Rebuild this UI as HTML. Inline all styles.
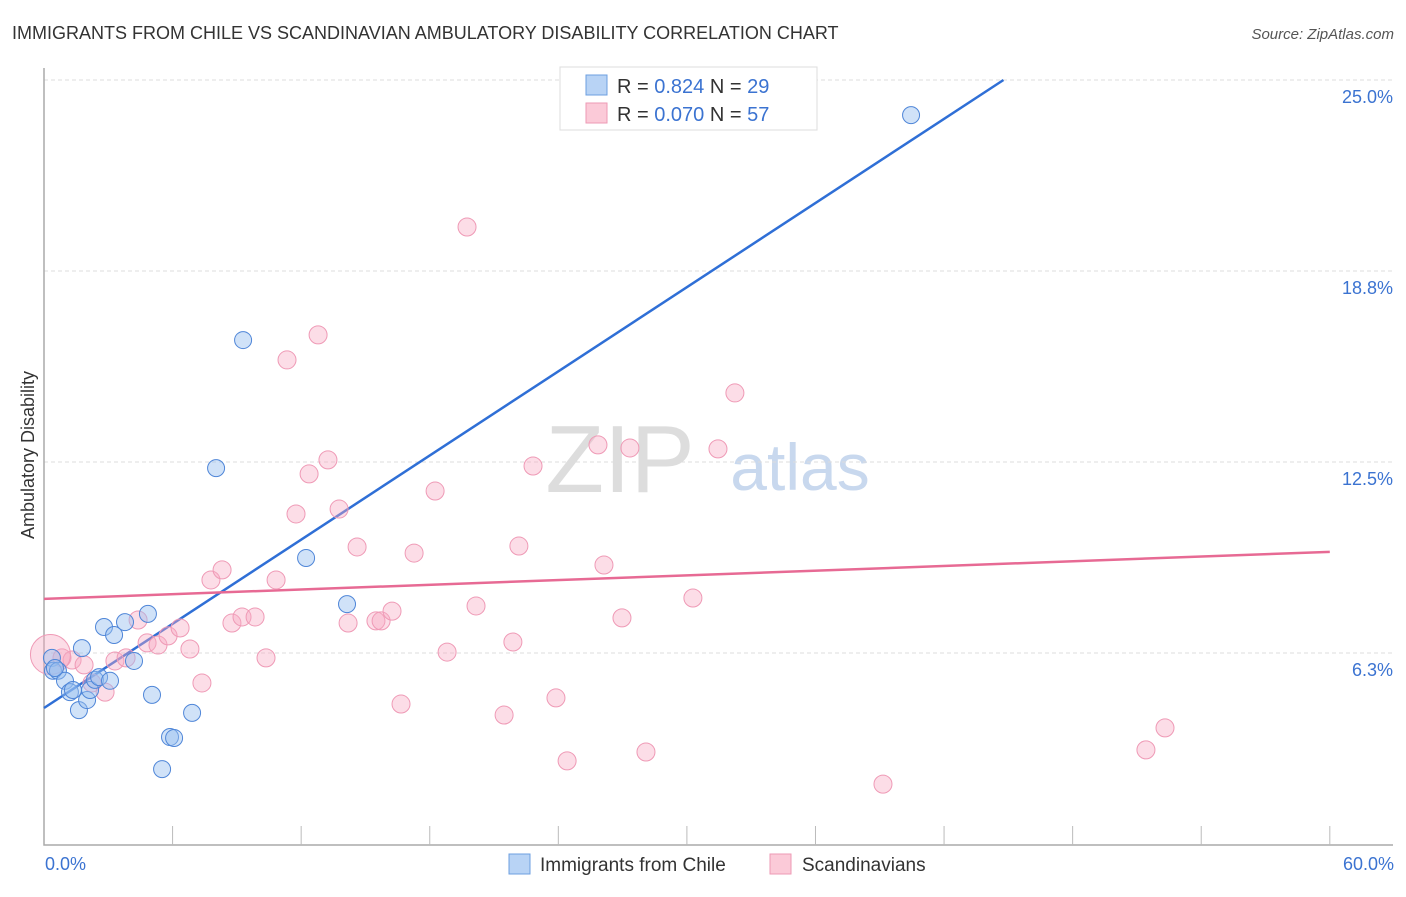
<!DOCTYPE html>
<html><head><meta charset="utf-8"><style>
body{margin:0;background:#fff;font-family:"Liberation Sans",sans-serif;}
svg text{font-family:"Liberation Sans",sans-serif;}
</style></head><body>
<svg width="1406" height="892" xmlns="http://www.w3.org/2000/svg">
<text x="12" y="39" font-size="18" fill="#333">IMMIGRANTS FROM CHILE VS SCANDINAVIAN AMBULATORY DISABILITY CORRELATION CHART</text>
<text x="1394" y="39" font-size="15" fill="#555" text-anchor="end" font-style="italic">Source: ZipAtlas.com</text>
<text x="620" y="492" font-size="96" fill="#ddd" text-anchor="middle" font-family="Liberation Serif">ZIP</text>
<text x="800" y="490" font-size="66" fill="#c8d8ee" text-anchor="middle">atlas</text>
<g id="grid"></g><g id="axes"></g><g id="lines"></g><g id="pts"></g>
<text transform="translate(34,455) rotate(-90)" font-size="18" fill="#333" text-anchor="middle">Ambulatory Disability</text>
<text x="45" y="870" font-size="18" fill="#3b73d1">0.0%</text>
<text x="1394" y="870" font-size="18" fill="#3b73d1" text-anchor="end">60.0%</text>
<g>
<rect x="560" y="67" width="257" height="63" fill="#fff" stroke="#ddd"/>
<rect x="586" y="75" width="21" height="20" fill="#b8d3f5" stroke="#6c9fe0"/>
<rect x="586" y="103" width="21" height="20" fill="#fbcad8" stroke="#ee9ab5"/>
<text x="617" y="93" font-size="20" fill="#333">R = <tspan fill="#3b73d1">0.824</tspan>   N = <tspan fill="#3b73d1">29</tspan></text>
<text x="617" y="121" font-size="20" fill="#333">R = <tspan fill="#3b73d1">0.070</tspan>   N = <tspan fill="#3b73d1">57</tspan></text>
</g>
<g><rect x="509" y="854" width="21" height="20" fill="#b8d3f5" stroke="#6c9fe0"/><text x="540" y="871" font-size="19" fill="#333">Immigrants from Chile</text></g>
<g><rect x="770" y="854" width="21" height="20" fill="#fbcad8" stroke="#ee9ab5"/><text x="802" y="871" font-size="19" fill="#333">Scandinavians</text></g>
</svg>
<script>
const yTicks=[25.0,18.8,12.5,6.3];
const yTickVals=[25,18.75,12.5,6.25];
const chileX=[0.37,0.42,0.65,0.98,1.21,1.35,1.63,1.77,2.01,2.15,2.38,2.57,2.80,3.08,3.27,3.78,4.20,4.85,5.04,5.51,5.88,6.07,6.91,8.03,9.29,12.23,14.14,40.46,0.51];
const chileY=[6.09,5.67,5.67,5.34,4.97,5.04,4.38,6.41,4.71,5.04,5.37,5.46,7.10,5.34,6.84,7.26,5.99,7.53,4.88,2.45,3.50,3.47,4.29,12.30,16.49,9.36,7.85,23.85,5.76];
const scanX=[0.84,1.31,1.87,2.24,2.85,3.31,3.83,4.39,4.81,5.32,5.79,6.35,6.81,7.37,7.79,8.31,8.77,9.24,9.85,10.36,10.83,11.34,11.76,12.37,12.79,13.25,13.77,14.19,14.61,15.49,15.73,16.24,16.66,17.27,18.25,18.81,19.74,20.16,21.47,21.88,22.16,22.82,23.89,24.41,25.85,26.13,26.97,27.34,27.90,28.09,30.28,31.45,32.24,39.15,51.42,52.31,0.3];
const scanY=[6.09,6.02,5.86,5.27,4.97,5.99,6.09,7.33,6.58,6.51,6.81,7.07,6.38,5.27,8.64,8.97,7.23,7.43,7.43,6.09,8.64,15.84,10.80,12.11,16.66,12.57,10.96,7.23,9.72,7.30,7.30,7.62,4.58,9.52,11.55,6.28,20.19,7.79,4.22,6.61,9.75,12.37,4.78,2.72,13.06,9.13,7.40,12.96,24.74,3.01,8.05,12.93,14.76,1.96,3.08,3.80,6.2];
const chileFit=[4.45,0.459];
const scanFit=[8.02,9.56];
const X=v=>44+v*21.43, Y=v=>80+(25-v)*30.56;
const NS='http://www.w3.org/2000/svg';
function mk(p,t,a){const e=document.createElementNS(NS,t);for(const k in a)e.setAttribute(k,a[k]);document.getElementById(p).appendChild(e);return e;}
yTickVals.forEach((v,i)=>{
 const g=mk('grid','line',{x1:44,x2:1393,y1:Y(v),y2:Y(v),stroke:'#ddd','stroke-dasharray':'4,3'});
 
 
 const t=mk('grid','text',{x:1393,y:Y(v)+23,'font-size':18,fill:'#3b73d1','text-anchor':'end'});
 t.textContent=yTicks[i].toFixed(1)+'%';
 
 
});
const ax=mk('axes','path',{d:'M44,68 V845 H1393',fill:'none',stroke:'#aaa','stroke-width':1.5});


for(let i=1;i<=10;i++){const t=mk('axes','line',{x1:X(i*6),x2:X(i*6),y1:826,y2:845,stroke:'#bbb'});
 
 }
const xe=(25-chileFit[0])/chileFit[1];
const l1=mk('lines','line',{x1:X(0),y1:Y(chileFit[0]),x2:X(xe),y2:Y(25),stroke:'#2f6fd6','stroke-width':2.5});


const l2=mk('lines','line',{x1:X(0),y1:Y(scanFit[0]),x2:X(60),y2:Y(scanFit[1]),stroke:'#e76a94','stroke-width':2.5});


scanX.forEach((x,i)=>{const c=mk('pts','circle',{cx:X(x),cy:Y(scanY[i]),r:i==scanX.length-1?20:9,fill:'rgba(248,170,195,0.4)',stroke:'#ef9ab6','stroke-width':1});
 
 });
chileX.forEach((x,i)=>{const c=mk('pts','circle',{cx:X(x),cy:Y(chileY[i]),r:8.5,fill:'rgba(150,190,240,0.45)',stroke:'#4f86d8','stroke-width':1});
 
 });
</script>
</body></html>
